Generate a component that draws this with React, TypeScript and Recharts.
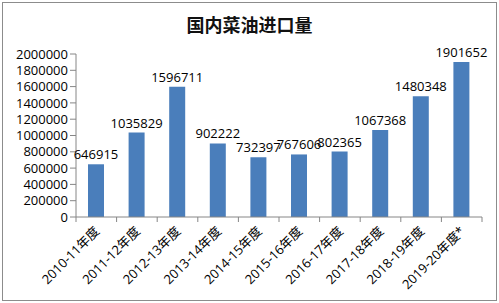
import { BarChart, Bar, XAxis, YAxis, LabelList } from "recharts";

const seasons = [
  "2010-11年度",
  "2011-12年度",
  "2012-13年度",
  "2013-14年度",
  "2014-15年度",
  "2015-16年度",
  "2016-17年度",
  "2017-18年度",
  "2018-19年度",
  "2019-20年度*",
];
const imports = [646915, 1035829, 1596711, 902222, 732397, 767606, 802365, 1067368, 1480348, 1901652];
const yTicks = [0, 200000, 400000, 600000, 800000, 1000000, 1200000, 1400000, 1600000, 1800000, 2000000];

const data = seasons.map((s, i) => ({ season: s, value: imports[i] }));

const W = 499;
const H = 303;
const LEFT = 76;
const RIGHT = 17;
const BAND = (W - LEFT - RIGHT) / seasons.length;
const AXIS = "#868686";
const FONT = "'Open Sans', 'Noto Sans CJK SC', sans-serif";

function SeasonTick(props: any) {
  const { x, y, payload, index } = props;
  const last = index === seasons.length - 1;
  return (
    <g>
      <line x1={x - BAND / 2} y1={y - 8} x2={x - BAND / 2} y2={y - 3} stroke={AXIS} />
      {last && <line x1={x + BAND / 2} y1={y - 8} x2={x + BAND / 2} y2={y - 3} stroke={AXIS} />}
      <text
        x={x + 4}
        y={y + 7}
        textAnchor="end"
        transform={`rotate(-45, ${x + 4}, ${y + 7})`}
        fontSize={13}
        fontFamily={FONT}
        fill="#000"
      >
        {payload.value}
      </text>
    </g>
  );
}

export default function App() {
  return (
    <div
      style={{
        position: "absolute",
        left: 0,
        top: 0,
        width: W,
        height: H,
        background: "#fff",
        fontFamily: FONT,
      }}
    >
      <div
        style={{
          position: "absolute",
          left: 2,
          top: 2,
          width: W - 6,
          height: H - 6,
          border: "1px solid #8c8c8c",
        }}
      />
      <div
        style={{
          position: "absolute",
          left: 0,
          width: W,
          top: 11,
          textAlign: "center",
          fontSize: 18,
          fontWeight: "bold",
          fontFamily: "'Noto Sans CJK SC', sans-serif",
          color: "#111",
          lineHeight: "26px",
        }}
      >
        国内菜油进口量
      </div>
      <BarChart
        width={W}
        height={H}
        data={data}
        margin={{ top: 54, right: RIGHT, bottom: 0, left: 0 }}
      >
        <XAxis
          dataKey="season"
          interval={0}
          height={86}
          tickLine={false}
          axisLine={{ stroke: AXIS }}
          tick={<SeasonTick />}
        />
        <YAxis
          width={LEFT}
          domain={[0, 2000000]}
          ticks={yTicks}
          interval={0}
          tick={{ fill: "#000", fontSize: 13, fontFamily: FONT }}
          tickLine={{ stroke: AXIS }}
          axisLine={{ stroke: AXIS }}
        />
        <Bar dataKey="value" fill="#4a7ebb" barSize={16} isAnimationActive={false}>
          <LabelList dataKey="value" position="top" fill="#000" fontSize={13} fontFamily={FONT} />
        </Bar>
      </BarChart>
    </div>
  );
}
